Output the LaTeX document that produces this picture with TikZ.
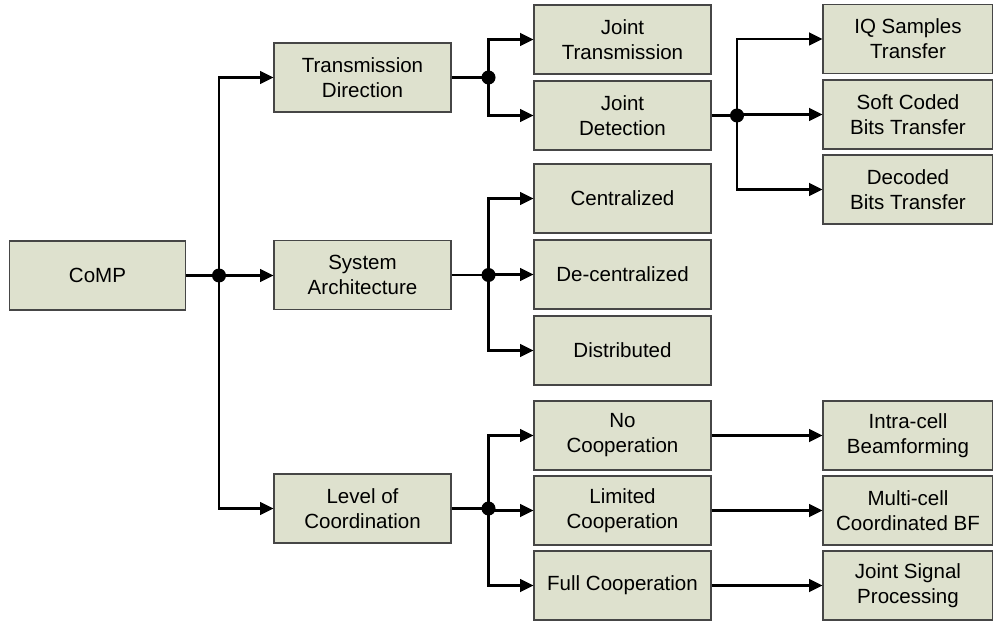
\documentclass[tikz,border=0pt]{standalone}
\usepackage{fontspec}
\setmainfont{Liberation Sans}
\usetikzlibrary{arrows.meta}
\definecolor{boxfill}{RGB}{222,225,206}
\definecolor{boxline}{RGB}{70,70,70}
\tikzset{
  blk/.style={draw=boxline, line width=0.8pt, fill=boxfill, align=center,
    inner sep=0pt, minimum height=51.75pt,
    font=\fontsize{15.4}{18.75}\selectfont},
  wA/.style={minimum width=132pt},
  wB/.style={minimum width=132.75pt},
  wC/.style={minimum width=127.5pt},
  link/.style={line width=1.8pt, black},
  arr/.style={link, -{Triangle[length=10pt,width=9.5pt]}},
  joint/.style={circle, fill=black, inner sep=0pt, minimum size=10.5pt}
}
\begin{document}
\begin{tikzpicture}[x=0.75pt,y=-0.75pt]
\useasboundingbox (0,0) rectangle (993,624);

% root
\node[blk,wA] (comp) at (97.5,275.5) {CoMP};

% first level
\node[blk,wB] (td) at (362.5,77.5) {Transmission\\Direction};
\node[blk,wB] (sa) at (362.5,275) {System\\Architecture};
\node[blk,wB] (lc) at (362.5,508.5) {Level of\\Coordination};

% second level
\node[blk,wB] (jt) at (622.5,39.5) {Joint\\Transmission};
\node[blk,wB] (jd) at (622.5,115.5) {Joint\\Detection};
\node[blk,wB] (cen) at (622.5,198.5) {Centralized};
\node[blk,wB] (dec) at (622.5,274.5) {De-centralized};
\node[blk,wB] (dis) at (622.5,350.5) {Distributed};
\node[blk,wB] (noc) at (622.5,435.5) {No\\Cooperation};
\node[blk,wB] (lim) at (622.5,510.5) {Limited\\Cooperation};
\node[blk,wB] (ful) at (622.5,585.5) {Full Cooperation};

% third level
\node[blk,wC] (iq) at (908,39) {IQ Samples\\Transfer};
\node[blk,wC] (soft) at (908,114.5) {Soft Coded\\Bits Transfer};
\node[blk,wC] (dcb) at (908,189.5) {Decoded\\Bits Transfer};
\node[blk,wC] (intra) at (908,435.5) {Intra-cell\\Beamforming};
\node[blk,wC] (multi) at (908,510.5) {Multi-cell\\Coordinated BF};
\node[blk,wC] (jsp) at (908,585.5) {Joint Signal\\Processing};

% branching points
\coordinate (j0) at (219,275.5);
\coordinate (j1) at (488.5,77.5);
\coordinate (j2) at (737,115.5);
\coordinate (j3) at (488.5,275);
\coordinate (j4) at (488.5,508.5);

% root to first level
\draw[link] (comp.east) -- (j0);
\draw[arr] (j0) |- (td.west);
\draw[arr] (j0) -- (j0 -| sa.west);
\draw[arr] (j0) |- (lc.west);

% transmission direction
\draw[link] (td.east) -- (j1);
\draw[arr] (j1) |- (jt.west);
\draw[arr] (j1) |- (jd.west);

% joint detection
\draw[link] (jd.east) -- (j2);
\draw[arr] (j2) |- (iq.west);
\draw[arr] (j2) |- (soft.west);
\draw[arr] (j2) |- (dcb.west);

% system architecture
\draw[link] (sa.east) -- (j3);
\draw[arr] (j3) |- (cen.west);
\draw[arr] (j3) |- (dec.west);
\draw[arr] (j3) |- (dis.west);

% level of coordination
\draw[link] (lc.east) -- (j4);
\draw[arr] (j4) |- (noc.west);
\draw[arr] (j4) |- (lim.west);
\draw[arr] (j4) |- (ful.west);

% cooperation outcomes
\draw[arr] (noc.east) -- (intra.west);
\draw[arr] (lim.east) -- (multi.west);
\draw[arr] (ful.east) -- (jsp.west);

% junction dots
\foreach \j in {j0,j1,j2,j3,j4} \node[joint] at (\j) {};
\end{tikzpicture}
\end{document}
